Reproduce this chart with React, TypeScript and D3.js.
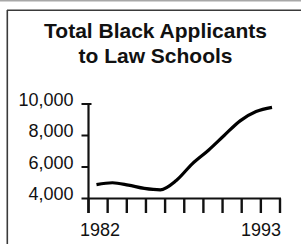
import React from 'react';
import * as d3 from 'd3';

// Total black applicants to law schools, by year
const years = [1982, 1983, 1984, 1985, 1986, 1987, 1988, 1989, 1990, 1991, 1992, 1993];
const applicants = [4880, 5000, 4850, 4640, 4550, 5140, 6200, 7050, 8000, 8930, 9520, 9790];
const yTicks = [4000, 6000, 8000, 10000];
const xLabels = [1982, 1993];
const titleLines = ['Total Black Applicants', 'to Law Schools'];
const xTickCount = 10;

const W = 301;
const H = 244;

export default function App() {
  const x = d3.scaleLinear().domain([1981.5, 1993.5]).range([88.5, 280]);
  const y = d3.scaleLinear().domain([4000, 10000]).range([198.5, 104]);

  const [d0, d1] = x.domain();
  const xTicks = d3.range(xTickCount + 1).map(i => d0 + (i * (d1 - d0)) / xTickCount);

  const line = d3
    .line<number>()
    .x((_, i) => x(years[i]))
    .y(d => y(d))
    .curve(d3.curveMonotoneX);

  const font = 'Liberation Sans, Arial, Helvetica, sans-serif';
  const x0 = x.range()[0];
  const xEnd = x.range()[1];
  const base = y(4000);

  return (
    <svg
      width={W}
      height={H}
      style={{ position: 'absolute', left: 0, top: 0, background: '#fff' }}
    >
      {/* frame */}
      <line x1={0} x2={W} y1={0.8} y2={0.8} stroke="#a8a8a8" strokeWidth={1.6} />
      <line x1={7} x2={W} y1={10.2} y2={10.2} stroke="#3a3a3a" strokeWidth={1.6} />
      <line x1={7.3} x2={7.3} y1={10} y2={H} stroke="#3a3a3a" strokeWidth={1.6} />

      {/* title */}
      {titleLines.map((t, i) => (
        <text
          key={t}
          x={155.5}
          y={38 + i * 25.3}
          textAnchor="middle"
          fontFamily={font}
          fontWeight="bold"
          fontSize={21}
          fill="#111"
        >
          {t}
        </text>
      ))}

      {/* y axis */}
      <line x1={x0} x2={x0} y1={y(10000) - 1} y2={base + 14.5} stroke="#111" strokeWidth={2.2} />
      {yTicks.map(v => (
        <g key={v}>
          <line
            x1={x0 - 7}
            x2={v === 10000 ? x0 + 3 : x0}
            y1={y(v)}
            y2={y(v)}
            stroke="#111"
            strokeWidth={2}
          />
          <text
            x={73.5}
            y={y(v) + 1.5}
            textAnchor="end"
            fontFamily={font}
            fontSize={18}
            fill="#111"
          >
            {d3.format(',')(v)}
          </text>
        </g>
      ))}

      {/* x axis */}
      <line x1={x0} x2={xEnd + 1} y1={base} y2={base} stroke="#111" strokeWidth={2.2} />
      {xTicks.map((t, i) => (
        <line
          key={i}
          x1={x(t)}
          x2={x(t)}
          y1={base}
          y2={base + 14.5}
          stroke="#111"
          strokeWidth={2.4}
        />
      ))}
      {xLabels.map((yr, i) => (
        <text
          key={yr}
          x={i === 0 ? x(yr) + 3.5 : xEnd + 1}
          y={236}
          textAnchor={i === 0 ? 'middle' : 'end'}
          fontFamily={font}
          fontSize={18}
          fill="#111"
        >
          {yr}
        </text>
      ))}

      {/* data line */}
      <path
        d={line(applicants) || ''}
        fill="none"
        stroke="#000"
        strokeWidth={3.2}
        strokeLinejoin="round"
      />
    </svg>
  );
}
